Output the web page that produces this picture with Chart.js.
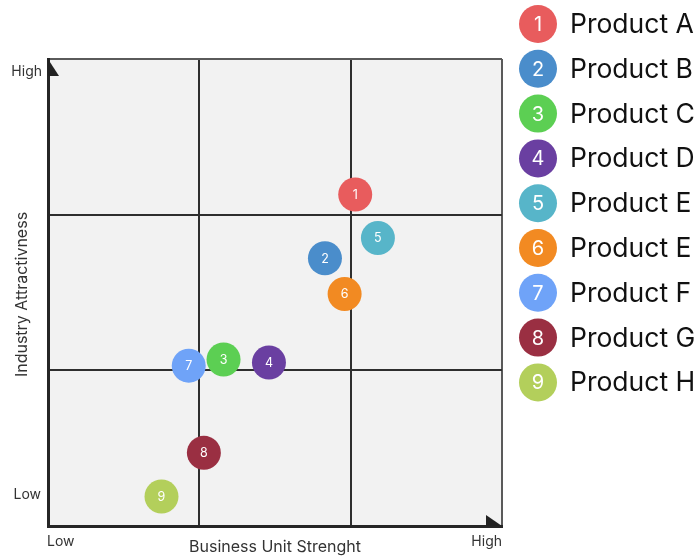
<!DOCTYPE html>
<html>
<head>
<meta charset="utf-8">
<script src="https://cdn.jsdelivr.net/npm/chart.js@4/dist/chart.umd.min.js"></script>
<style>
  html, body { margin: 0; padding: 0; background: #ffffff; }
  #wrap { width: 700px; height: 558px; }
</style>
</head>
<body>
<div id="wrap"><canvas id="matrix" width="700" height="558"></canvas></div>
<script>
// Portfolio matrix: business unit strength vs. industry attractiveness (0..3 scale)
const products = ['Product A', 'Product B', 'Product C', 'Product D', 'Product E',
                  'Product E', 'Product F', 'Product G', 'Product H'];
const strength = [2.03, 1.83, 1.16, 1.46, 2.18, 1.96, 0.93, 1.03, 0.75];
const attractiveness = [2.13, 1.72, 1.07, 1.05, 1.85, 1.49, 1.03, 0.47, 0.19];
const colors = ['#e85c5d', '#4a8dcb', '#5ccf53', '#6a3fa1', '#57b5c9',
                '#f28a22', '#6fa3f8', '#9a2f42', '#b3cf5b'];
const xTickLabels = ['Low', 'High'];
const yTickLabels = ['Low', 'High'];
const xTitle = 'Business Unit Strenght';
const yTitle = 'Industry Attractivness';

const FONT = 'Inter, "Noto Sans", sans-serif';

const points = strength.map((x, i) => ({ x: x, y: attractiveness[i] }));

const gridColor = (ctx) => {
  const v = ctx.tick && ctx.tick.value;
  if (v === 1 || v === 2) return '#2e2e2e';
  if (v === 3) return '#5a5a5a';
  return 'rgba(0,0,0,0)';
};

const matrixDecor = {
  id: 'matrixDecor',
  beforeDraw(chart) {
    const { ctx, chartArea: a } = chart;
    ctx.save();
    ctx.fillStyle = '#f2f2f2';
    ctx.fillRect(a.left, a.top, a.right - a.left, a.bottom - a.top);
    ctx.restore();
  },
  afterDatasetsDraw(chart) {
    const { ctx } = chart;
    const meta = chart.getDatasetMeta(0);
    ctx.save();
    ctx.fillStyle = '#ffffff';
    ctx.font = '12.5px ' + FONT;
    ctx.textAlign = 'center';
    ctx.textBaseline = 'middle';
    meta.data.forEach((el, i) => {
      ctx.fillText(String(i + 1), el.x, el.y + 0.5);
    });
    ctx.restore();
  },
  afterDraw(chart) {
    const { ctx, chartArea: a } = chart;
    const xs = chart.scales.x, ys = chart.scales.y;
    ctx.save();

    // half-arrow heads at the axis ends
    ctx.fillStyle = '#222222';
    ctx.beginPath();
    ctx.moveTo(a.left, a.top);
    ctx.lineTo(a.left, a.top + 17);
    ctx.lineTo(a.left + 11, a.top + 17);
    ctx.closePath();
    ctx.fill();
    ctx.beginPath();
    ctx.moveTo(a.right - 16, a.bottom - 11);
    ctx.lineTo(a.right - 16, a.bottom);
    ctx.lineTo(a.right, a.bottom);
    ctx.closePath();
    ctx.fill();

    // Low / High marks
    ctx.fillStyle = '#333333';
    ctx.font = '14px ' + FONT;
    ctx.textBaseline = 'middle';
    ctx.textAlign = 'right';
    ctx.fillText(yTickLabels[1], a.left - 6, ys.getPixelForValue(3) + 13);
    ctx.fillText(yTickLabels[0], a.left - 7, ys.getPixelForValue(0) - 31);
    ctx.textAlign = 'left';
    ctx.fillText(xTickLabels[0], xs.getPixelForValue(0) - 1, a.bottom + 16);
    ctx.textAlign = 'right';
    ctx.fillText(xTickLabels[1], xs.getPixelForValue(3), a.bottom + 16);

    // axis titles
    ctx.font = '16px ' + FONT;
    ctx.textAlign = 'center';
    ctx.fillText(xTitle, (a.left + a.right) / 2, a.bottom + 21);
    ctx.save();
    ctx.translate(22, (a.top + a.bottom) / 2 + 2);
    ctx.rotate(-Math.PI / 2);
    ctx.fillText(yTitle, 0, 0);
    ctx.restore();

    // numbered legend
    const lx = 538, ly0 = 24, step = 44.8;
    products.forEach((name, i) => {
      const cy = ly0 + i * step;
      ctx.fillStyle = colors[i];
      ctx.beginPath();
      ctx.arc(lx, cy, 19, 0, Math.PI * 2);
      ctx.fill();
      ctx.fillStyle = '#ffffff';
      ctx.font = '20px ' + FONT;
      ctx.textAlign = 'center';
      ctx.fillText(String(i + 1), lx, cy + 1);
      ctx.fillStyle = '#111111';
      ctx.font = '26.5px ' + FONT;
      ctx.textAlign = 'left';
      ctx.fillText(name, 570, cy + 1);
    });
    ctx.restore();
  }
};

new Chart(document.getElementById('matrix'), {
  type: 'scatter',
  data: {
    datasets: [{
      data: points,
      backgroundColor: colors,
      borderColor: colors,
      borderWidth: 0,
      pointRadius: 17,
      pointHoverRadius: 17
    }]
  },
  options: {
    responsive: false,
    animation: false,
    events: [],
    layout: { padding: { left: 48, top: 59, right: 198, bottom: 32 } },
    plugins: { legend: { display: false }, tooltip: { enabled: false } },
    scales: {
      x: {
        type: 'linear', min: 0, max: 3,
        ticks: { display: false, stepSize: 1 },
        grid: { color: gridColor, lineWidth: 2, drawTicks: false },
        border: { display: true, color: '#262626', width: 3 }
      },
      y: {
        type: 'linear', min: 0, max: 3,
        ticks: { display: false, stepSize: 1 },
        grid: { color: gridColor, lineWidth: 2, drawTicks: false },
        border: { display: true, color: '#262626', width: 3 }
      }
    }
  },
  plugins: [matrixDecor]
});
</script>
</body>
</html>
